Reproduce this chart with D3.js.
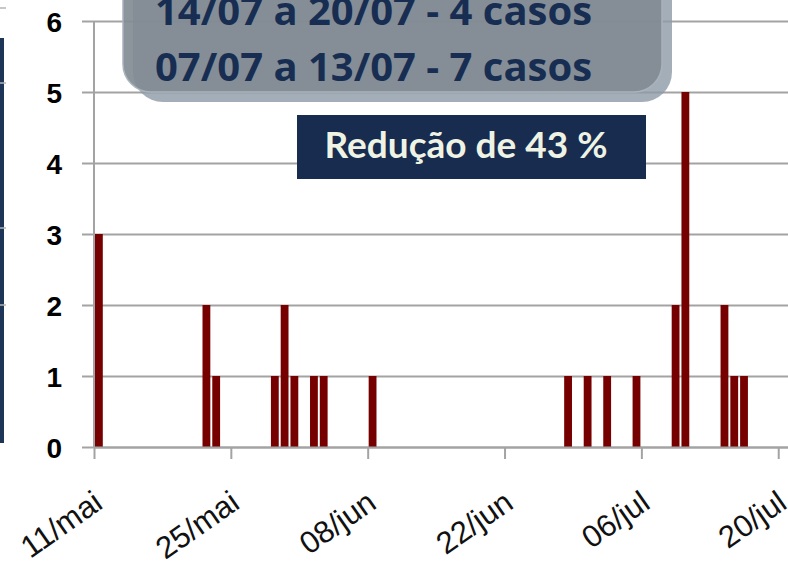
<!DOCTYPE html>
<html>
<head>
<meta charset="utf-8">
<script src="https://cdn.jsdelivr.net/npm/d3@7"></script>
<style>
  html, body { margin: 0; padding: 0; background: #fff; }
  svg { display: block; }
</style>
</head>
<body>
<div id="chart"></div>
<script>
// daily case counts (only days with cases are listed)
const caseDates = ['2020-05-11', '2020-05-22', '2020-05-23', '2020-05-29', '2020-05-30', '2020-05-31',
  '2020-06-02', '2020-06-03', '2020-06-08', '2020-06-28', '2020-06-30', '2020-07-02', '2020-07-05',
  '2020-07-09', '2020-07-10', '2020-07-14', '2020-07-15', '2020-07-16'];
const caseCounts = [3, 2, 1, 1, 2, 1, 1, 1, 1, 1, 1, 1, 1, 2, 5, 2, 1, 1];

const tickDates = ['2020-05-11', '2020-05-25', '2020-06-08', '2020-06-22', '2020-07-06', '2020-07-20'];
const tickLabels = ['11/mai', '25/mai', '08/jun', '22/jun', '06/jul', '20/jul'];
const yTicks = [0, 1, 2, 3, 4, 5, 6];

const noteLines = ['14/07 a 20/07 - 4 casos', '07/07 a 13/07 - 7 casos'];
const badgeText = 'Redução de 43 %';

const W = 788, H = 563;
const parse = d3.timeParse('%Y-%m-%d');

const svg = d3.select('#chart').append('svg')
  .attr('width', W)
  .attr('height', H);

const x = d3.scaleTime()
  .domain([parse('2020-05-11'), parse('2020-07-21')])
  .range([94, 788]);

const y = d3.scaleLinear()
  .domain([0, 6])
  .range([447, 21]);

const dayW = x(parse('2020-05-12')) - x(parse('2020-05-11'));

// left decoration (edge of a neighbouring panel)
svg.append('rect')
  .attr('x', 0).attr('y', 38)
  .attr('width', 4).attr('height', 405)
  .attr('fill', '#1d3557');
[8, 83, 228, 305].forEach(ty => {
  svg.append('line')
    .attr('x1', 0).attr('x2', 6)
    .attr('y1', ty).attr('y2', ty)
    .attr('stroke', '#b5b5b5').attr('stroke-width', 1.5);
});

// horizontal gridlines + y axis
const yAxis = svg.append('g')
  .attr('transform', 'translate(94,0)')
  .call(d3.axisLeft(y).tickValues(yTicks).tickFormat(d3.format('d')).tickSize(12).tickPadding(20));

yAxis.select('.domain').remove();
yAxis.selectAll('.tick line')
  .attr('stroke', '#a3a3a3').attr('stroke-width', 2)
  .attr('x2', W - 94).attr('x1', -12);
yAxis.selectAll('.tick text')
  .attr('fill', '#000')
  .attr('font-family', "'Liberation Sans', Arial, sans-serif")
  .attr('font-weight', 'bold')
  .attr('font-size', 28)
  .attr('dy', '0.36em');

// bars
const barW = dayW * 0.8;
svg.append('g')
  .selectAll('rect')
  .data(caseDates.map((d, i) => ({ date: parse(d), value: caseCounts[i] })))
  .join('rect')
  .attr('x', d => x(d.date) + (dayW - barW) / 2)
  .attr('width', barW)
  .attr('y', d => y(d.value))
  .attr('height', d => y(0) - y(d.value))
  .attr('fill', '#760000');

// vertical axis line
svg.append('line')
  .attr('x1', 94).attr('x2', 94)
  .attr('y1', y(6)).attr('y2', y(0))
  .attr('stroke', '#a3a3a3').attr('stroke-width', 2);

// x axis
const xAxis = svg.append('g')
  .attr('transform', `translate(0,${y(0)})`)
  .call(d3.axisBottom(x)
    .tickValues(tickDates.map(parse))
    .tickFormat((d, i) => tickLabels[i])
    .tickSize(12)
    .tickSizeOuter(0));

xAxis.select('.domain').attr('stroke', '#a3a3a3').attr('stroke-width', 2);
xAxis.selectAll('.tick line').attr('stroke', '#a3a3a3').attr('stroke-width', 2);
xAxis.selectAll('.tick text')
  .attr('fill', '#111')
  .attr('font-family', "'Liberation Sans', Arial, sans-serif")
  .attr('font-size', 31)
  .attr('text-anchor', 'end')
  .attr('y', 0).attr('dy', 0)
  .attr('transform', 'translate(10,60) rotate(-35)');

// grey note box at the top (clipped by the top edge)
svg.append('rect')
  .attr('x', 133).attr('y', -40)
  .attr('width', 539).attr('height', 142)
  .attr('rx', 30)
  .attr('fill', '#8d9aa8').attr('fill-opacity', 0.8);

svg.append('rect')
  .attr('x', 123).attr('y', -40)
  .attr('width', 539).attr('height', 132)
  .attr('rx', 28)
  .attr('fill', '#828b94').attr('fill-opacity', 0.92)
  .attr('stroke', '#a9b3bc').attr('stroke-width', 1.5);

svg.append('g')
  .selectAll('text')
  .data(noteLines)
  .join('text')
  .attr('x', 155)
  .attr('y', (d, i) => 25 + i * 56)
  .attr('font-family', "'Open Sans', sans-serif")
  .attr('font-weight', 'bold')
  .attr('font-size', 40)
  .attr('fill', '#172d52')
  .text(d => d);

// navy badge
svg.append('rect')
  .attr('x', 297).attr('y', 115)
  .attr('width', 349).attr('height', 64)
  .attr('fill', '#172c4e');

svg.append('text')
  .attr('x', 466).attr('y', 158)
  .attr('text-anchor', 'middle')
  .attr('font-family', "Lato, sans-serif")
  .attr('font-weight', 'bold')
  .attr('font-size', 37)
  .attr('fill', '#eef3e4')
  .text(badgeText);
</script>
</body>
</html>
